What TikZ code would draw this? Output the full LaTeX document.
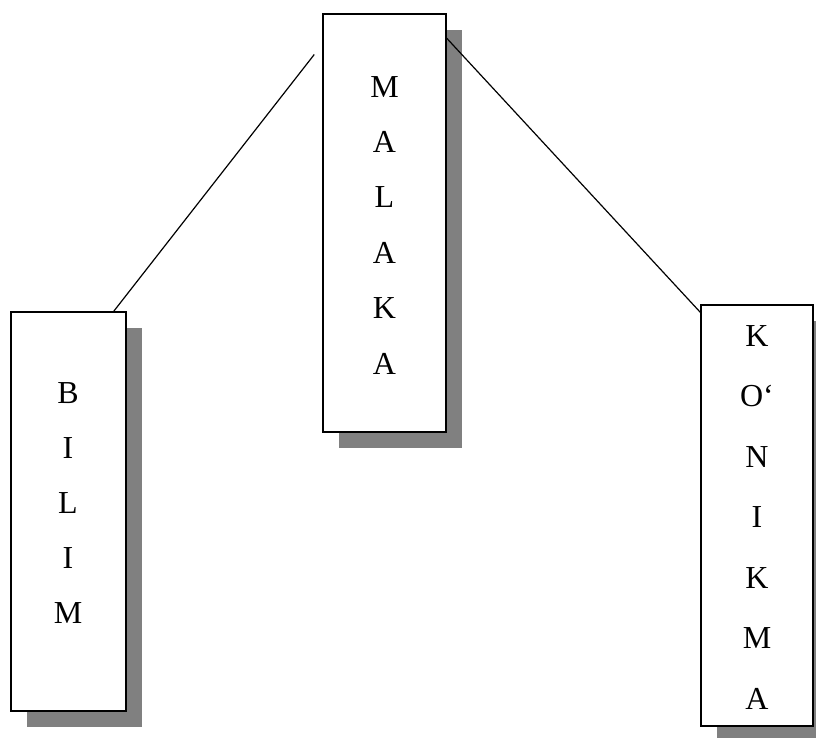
\documentclass[tikz,border=0pt]{standalone}
\usepackage{fontspec}
\setmainfont{Liberation Serif}
\usetikzlibrary{shadows}

\definecolor{shadowgray}{RGB}{128,128,128}

\tikzset{
  wordbox/.style={draw, line width=1.5pt, fill=white, inner sep=0pt,
    drop shadow={shadow xshift=16pt, shadow yshift=-16pt, fill=shadowgray, opacity=1}},
  letter/.style={anchor=base, inner sep=0pt, font=\fontsize{32}{32}\selectfont},
  link/.style={line width=1.2pt}
}

\begin{document}
\begin{tikzpicture}[x=1pt,y=-1pt]
\useasboundingbox (0,0) rectangle (816,737);

\node (malaka) at (384.5,223) [wordbox, minimum width=123pt, minimum height=418pt] {};
\node (bilim) at (68.5,511.5) [wordbox, minimum width=115pt, minimum height=399pt] {};
\node (konikma) at (757,515.5) [wordbox, minimum width=112pt, minimum height=421pt] {};

\foreach \l [count=\i] in {M,A,L,A,K,A}
  \node (m\i) at (384.5,{97+55.4*(\i-1)}) [letter] {\l};
\foreach \l [count=\i] in {B,I,L,I,M}
  \node (b\i) at (68,{403+55*(\i-1)}) [letter] {\l};
\foreach \l [count=\i] in {K,O‘,N,I,K,M,A}
  \node (k\i) at (757,{346+60.5*(\i-1)}) [letter] {\l};

\draw [link, shorten >=13pt] ([xshift=-13pt]bilim.north east) -- ([yshift=-31pt]malaka.north west);
\draw [link] ([yshift=-25pt]malaka.north east) -- ([yshift=-8pt]konikma.north west);

\end{tikzpicture}
\end{document}
